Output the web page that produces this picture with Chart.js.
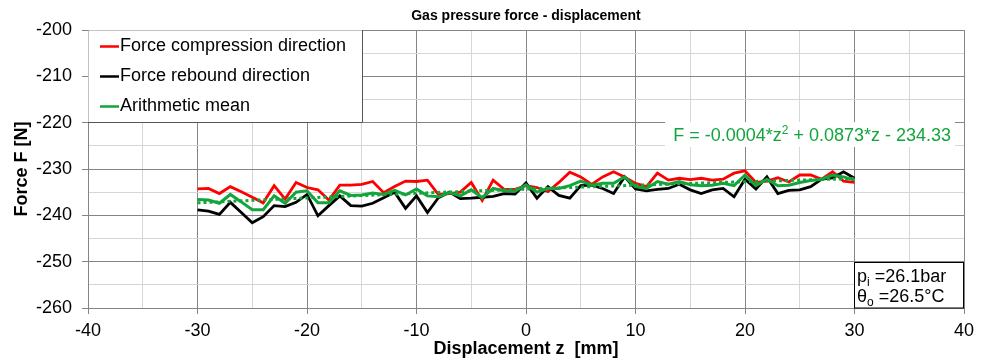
<!DOCTYPE html>
<html><head><meta charset="utf-8">
<script src="https://cdn.jsdelivr.net/npm/chart.js@4.4.1/dist/chart.umd.min.js"></script>
<style>html,body{margin:0;padding:0;background:#fff}#wrap{width:984px;height:362px}</style>
</head><body><div id="wrap"><canvas id="c" width="984" height="362"></canvas></div>
<script>
// ---- data ----
const zValues = [-30,-29,-28,-27,-26,-25,-24,-23,-22,-21,-20,-19,-18,-17,-16,-15,-14,-13,-12,-11,-10,-9,-8,-7,-6,-5,-4,-3,-2,-1,0,1,2,3,4,5,6,7,8,9,10,11,12,13,14,15,16,17,18,19,20,21,22,23,24,25,26,27,28,29,30];
const forceCompression = [-234.3,-234.2,-235.3,-233.8,-234.9,-236.1,-237.3,-233.6,-236.5,-232.9,-234.0,-234.5,-236.7,-233.5,-233.5,-233.3,-232.7,-235.1,-233.8,-232.6,-232.7,-232.4,-235.5,-235.3,-235.0,-232.9,-236.8,-232.4,-234.4,-234.4,-233.6,-234.0,-234.9,-232.9,-230.7,-231.7,-233.3,-231.7,-230.6,-231.7,-233.1,-233.8,-230.9,-232.4,-232.0,-232.3,-232.0,-232.4,-232.2,-230.9,-230.4,-232.9,-232.6,-231.9,-232.8,-231.3,-231.3,-232.2,-230.6,-232.6,-232.9];
const forceRebound = [-238.8,-239.1,-239.8,-237.2,-239.4,-241.6,-240.3,-237.9,-238.1,-237.2,-235.5,-240.1,-237.9,-235.8,-237.9,-238.0,-237.4,-236.2,-235.0,-238.5,-235.8,-239.4,-236.2,-235.0,-236.4,-236.3,-236.1,-235.9,-235.3,-235.4,-233.0,-236.3,-233.8,-235.7,-236.3,-233.6,-233.5,-234.2,-235.3,-231.7,-234.3,-234.7,-234.4,-234.2,-233.3,-234.5,-235.3,-234.5,-234.2,-236.0,-232.2,-234.3,-231.7,-235.3,-234.6,-234.5,-233.8,-232.2,-231.9,-230.6,-232.0];
const arithmeticMean = [-236.6,-236.7,-237.4,-235.5,-237.1,-238.8,-238.8,-235.8,-237.4,-235.0,-234.7,-237.3,-237.3,-234.7,-235.7,-235.6,-235.2,-235.5,-234.6,-235.6,-234.3,-235.8,-236.0,-235.1,-235.8,-234.5,-236.2,-234.2,-234.7,-234.8,-233.4,-235.0,-234.2,-234.2,-233.6,-232.6,-233.5,-233.1,-233.1,-231.7,-233.8,-234.2,-232.7,-233.3,-232.7,-233.4,-233.6,-233.5,-233.1,-233.6,-231.3,-233.6,-232.2,-233.6,-233.5,-232.9,-232.5,-232.2,-231.3,-231.7,-232.4];
const trendZ = [-30,-25,-20,-15,-10,-5,0,5,10,15,20,25,30];
const trendF = [-237.31,-236.76,-236.24,-235.73,-235.24,-234.78,-234.33,-233.90,-233.50,-233.11,-232.74,-232.40,-232.07];
const xTickValues = [-40,-30,-20,-10,0,10,20,30,40];
const xTickLabels = ['-40','-30','-20','-10','0','10','20','30','40'];
const yTickValues = [-260,-250,-240,-230,-220,-210,-200];
const yTickLabels = ['-260','-250','-240','-230','-220','-210','-200'];
const seriesNames = ['Force compression direction','Force rebound direction','Arithmetic mean'];
const chartTitle = 'Gas pressure force - displacement';
const xTitle = 'Displacement z  [mm]';
const yTitle = 'Force F [N]';
const eqParts = ['F = -0.0004*z', '2', ' + 0.0873*z - 234.33'];
const infoLines = [['p','i',' =26.1bar'],['\u03B8','o',' =26.5\u00B0C']];

// ---- styles ----
const RED = '#ff0000', BLACK = '#000000', GREEN = '#12a53c';
const FONT = "'Liberation Sans', Arial, sans-serif";
const MAJOR = '#858585', MINOR = '#d6d6d6';

const toXY = (xs, ys) => xs.map((x, i) => ({x: x, y: ys[i]}));

const overlay = {
  id: 'overlay',
  afterDraw(chart) {
    const ctx = chart.ctx, a = chart.chartArea;
    ctx.save();
    // legend box
    ctx.fillStyle = '#fff';
    ctx.fillRect(a.left + 0.5, a.top + 0.5, 362 - a.left, 92);
    ctx.strokeStyle = '#555';
    ctx.lineWidth = 1;
    ctx.beginPath();
    ctx.moveTo(362.5, a.top); ctx.lineTo(362.5, 122.5); ctx.lineTo(a.left, 122.5);
    ctx.stroke();
    const colors = [RED, BLACK, GREEN];
    ctx.font = '18px ' + FONT;
    ctx.textBaseline = 'middle';
    ctx.textAlign = 'left';
    for (let i = 0; i < 3; i++) {
      const y = 46.5 + i * 30;
      ctx.strokeStyle = colors[i]; ctx.lineWidth = 2.5;
      ctx.beginPath(); ctx.moveTo(100, y); ctx.lineTo(119, y); ctx.stroke();
      ctx.fillStyle = '#000';
      ctx.fillText(seriesNames[i], 120, y);
    }
    // equation
    ctx.fillStyle = '#fff';
    ctx.fillRect(665, 122, 290, 25);
    ctx.font = '18px ' + FONT;
    const w1 = ctx.measureText(eqParts[0]).width;
    const w3 = ctx.measureText(eqParts[2]).width;
    ctx.font = '12px ' + FONT;
    const w2 = ctx.measureText(eqParts[1]).width;
    let ex = 951 - (w1 + w2 + w3);
    const eb = 141;
    ctx.fillStyle = GREEN;
    ctx.textBaseline = 'alphabetic';
    ctx.font = '18px ' + FONT; ctx.fillText(eqParts[0], ex, eb); ex += w1;
    ctx.font = '12px ' + FONT; ctx.fillText(eqParts[1], ex, eb - 7); ex += w2;
    ctx.font = '18px ' + FONT; ctx.fillText(eqParts[2], ex, eb);
    // info box
    ctx.fillStyle = '#fff';
    ctx.fillRect(854.5, 262.5, 109, 45.5);
    ctx.strokeStyle = '#000'; ctx.lineWidth = 1;
    ctx.strokeRect(854.5, 262.5, 109, 45.5);
    ctx.fillStyle = '#000';
    infoLines.forEach((ln, i) => {
      const b = 282 + i * 20;
      let x = 857;
      ctx.font = '18px ' + FONT; ctx.fillText(ln[0], x, b); x += ctx.measureText(ln[0]).width;
      ctx.font = '12px ' + FONT; ctx.fillText(ln[1], x, b + 4); x += ctx.measureText(ln[1]).width;
      ctx.font = '18px ' + FONT; ctx.fillText(ln[2], x, b);
    });
    // titles
    ctx.textAlign = 'center'; ctx.textBaseline = 'middle';
    ctx.font = 'bold 14px ' + FONT;
    ctx.fillText(chartTitle, (a.left + a.right) / 2, 16);
    ctx.font = 'bold 18px ' + FONT;
    ctx.fillText(xTitle, (a.left + a.right) / 2, 349);
    ctx.translate(22, (a.top + a.bottom) / 2);
    ctx.rotate(-Math.PI / 2);
    ctx.fillText(yTitle, 0, 0);
    ctx.restore();
  }
};

const gridColor = c => (c.tick && Math.abs(c.tick.value % 10) < 1e-6) ? MAJOR : MINOR;
const tickColor = c => (c.tick && Math.abs(c.tick.value % 10) < 1e-6) ? MAJOR : 'rgba(0,0,0,0)';

new Chart(document.getElementById('c'), {
  type: 'line',
  data: {
    datasets: [
      {label: seriesNames[0], data: toXY(zValues, forceCompression), borderColor: RED, borderWidth: 2.8, pointRadius: 0, tension: 0, order: 4},
      {label: seriesNames[1], data: toXY(zValues, forceRebound), borderColor: BLACK, borderWidth: 2.8, pointRadius: 0, tension: 0, order: 3},
      {label: seriesNames[2], data: toXY(zValues, arithmeticMean), borderColor: GREEN, borderWidth: 3, pointRadius: 0, tension: 0, order: 2},
      {label: 'trend', data: toXY(trendZ, trendF), borderColor: GREEN, borderWidth: 3, borderDash: [3, 3], pointRadius: 0, tension: 0, order: 1}
    ]
  },
  options: {
    responsive: false, animation: false, devicePixelRatio: 1,
    layout: {padding: {top: 30, right: 20, left: 0, bottom: 0}},
    plugins: {legend: {display: false}, title: {display: false}, tooltip: {enabled: false}},
    scales: {
      x: {
        type: 'linear', min: -40, max: 40,
        afterFit: s => { s.height = 54; },
        ticks: {stepSize: 5, autoSkip: false, maxRotation: 0, padding: 6, color: '#000', font: {size: 18, family: FONT},
          callback: v => { const i = xTickValues.indexOf(v); return i >= 0 ? xTickLabels[i] : ''; }},
        grid: {color: gridColor, tickColor: tickColor, tickLength: 6, lineWidth: 1},
        border: {color: MAJOR}
      },
      y: {
        min: -260, max: -200,
        afterFit: s => { s.width = 88; },
        ticks: {stepSize: 5, autoSkip: false, padding: 10, color: '#000', font: {size: 18, family: FONT},
          callback: v => { const i = yTickValues.indexOf(v); return i >= 0 ? yTickLabels[i] : ''; }},
        grid: {color: gridColor, tickColor: tickColor, tickLength: 6, lineWidth: 1},
        border: {color: MAJOR}
      }
    }
  },
  plugins: [overlay]
});
</script></body></html>
